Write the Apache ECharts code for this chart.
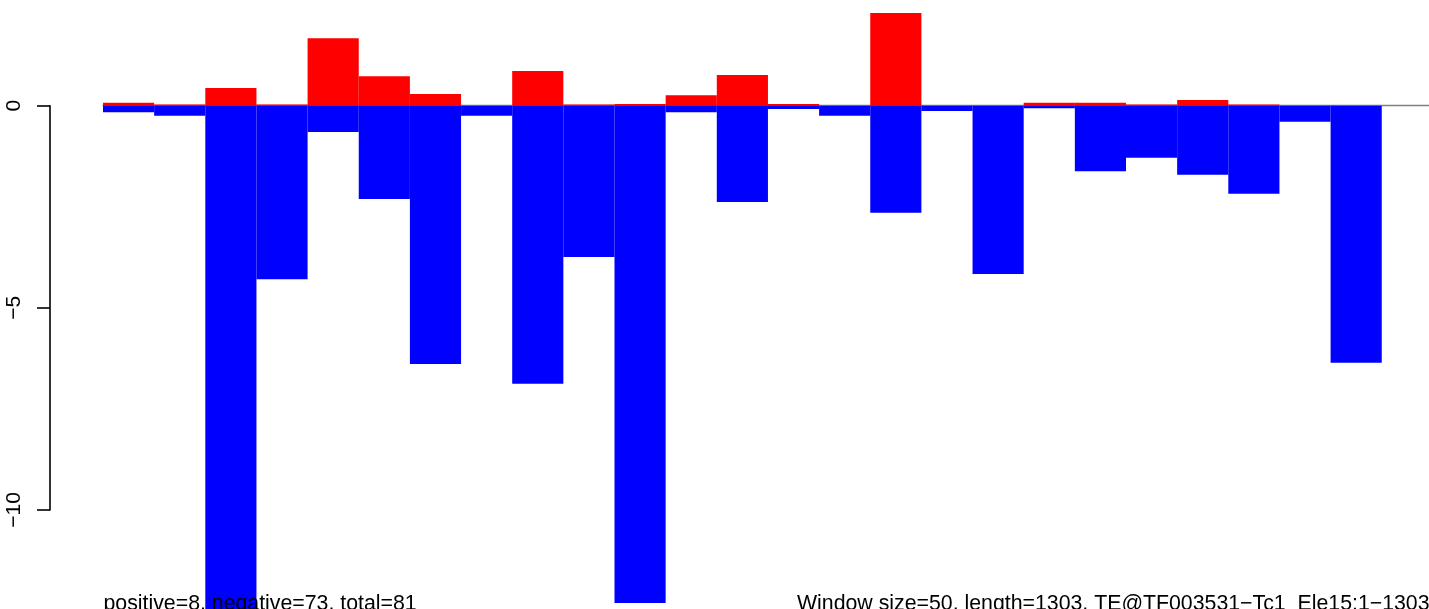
<!DOCTYPE html>
<html>
<head>
<meta charset="utf-8">
<script src="https://cdn.jsdelivr.net/npm/echarts@6/dist/echarts.min.js"></script>
<style>
html,body{margin:0;padding:0;background:#fff;}
#chart{width:1429px;height:609px;}
</style>
</head>
<body>
<div id="chart"></div>
<script>
// Windows (50 bp each) along the element, 27 windows for length 1303
var windows = ['1','2','3','4','5','6','7','8','9','10','11','12','13','14','15','16','17','18','19','20','21','22','23','24','25','26','27'];
// positive scores per window (red)
var positiveValues = [0.07, 0.03, 0.44, 0.03, 1.67, 0.73, 0.29, 0, 0.86, 0.03, 0.04, 0.26, 0.76, 0.04, 0, 2.29, 0, 0, 0.07, 0.07, 0.03, 0.14, 0.03, 0, 0, 0, 0];
// negative scores per window (blue)
var negativeValues = [-0.16, -0.25, -12.9, -4.29, -0.65, -2.31, -6.39, -0.25, -6.88, -3.74, -12.30, -0.16, -2.38, -0.08, -0.25, -2.65, -0.13, -4.16, -0.06, -1.62, -1.29, -1.71, -2.18, -0.40, -6.36, 0, 0];
// y axis ticks
var yTicks = [0, -5, -10];
var yTickLabels = ['0', '\u22125', '\u221210'];
// annotation texts
var leftNote = 'positive=8, negative=73, total=81';
var rightNote = 'Window size=50, length=1303, TE@TF003531\u2212Tc1_Ele15:1\u22121303';

var pxPerUnit = 40.43;
var zeroY = 105.7;
var yMax = 2.6, yMin = -12.6;
var barW = 51.15;
var font = '"Liberation Sans", Arial, Helvetica, sans-serif';

var chart = echarts.init(document.getElementById('chart'), null, {renderer: 'canvas'});
chart.setOption({
  animation: false,
  backgroundColor: '#ffffff',
  grid: [
    {left: 103, top: zeroY - yMax * pxPerUnit, width: windows.length * barW, height: (yMax - yMin) * pxPerUnit, containLabel: false, outerBoundsMode: 'none'},
    {left: 50, top: zeroY, width: 10, height: (yTicks[0] - yTicks[yTicks.length - 1]) * pxPerUnit, containLabel: false, outerBoundsMode: 'none'}
  ],
  xAxis: [
    {type: 'category', gridIndex: 0, data: windows, boundaryGap: true,
     axisLine: {show: true, onZero: true, lineStyle: {color: '#7f7f7f', width: 1.3}},
     axisTick: {show: false}, axisLabel: {show: false}, splitLine: {show: false}},
    {type: 'value', gridIndex: 1, show: false}
  ],
  yAxis: [
    {type: 'value', gridIndex: 0, min: yMin, max: yMax, show: false, splitLine: {show: false}},
    {type: 'value', gridIndex: 1, min: yTicks[yTicks.length - 1], max: yTicks[0], interval: 5, position: 'left',
     axisLine: {show: true, lineStyle: {color: '#000', width: 1.6}},
     axisTick: {show: true, inside: false, length: 13, lineStyle: {color: '#000', width: 1.6}},
     splitLine: {show: false},
     axisLabel: {show: true, rotate: 90, margin: 25, fontSize: 21, fontFamily: font, color: '#000',
       formatter: function (v) { var i = yTicks.indexOf(v); return i >= 0 ? yTickLabels[i] : ''; }}}
  ],
  series: [
    {type: 'bar', name: 'positive', xAxisIndex: 0, yAxisIndex: 0, data: positiveValues,
     barGap: '-100%', barCategoryGap: '0%', itemStyle: {color: '#ff0000'}, z: 2},
    {type: 'bar', name: 'negative', xAxisIndex: 0, yAxisIndex: 0, data: negativeValues,
     barGap: '-100%', barCategoryGap: '0%', itemStyle: {color: '#0000ff'}, z: 3}
  ],
  graphic: [
    {type: 'text', z: 100, style: {text: leftNote, x: 103.5, y: 603.8, fill: '#000', font: '21.3px ' + font, textAlign: 'left', textVerticalAlign: 'middle'}},
    {type: 'text', z: 100, style: {text: rightNote, x: 797, y: 603.8, fill: '#000', font: '21.3px ' + font, textAlign: 'left', textVerticalAlign: 'middle'}}
  ]
});
</script>
</body>
</html>
